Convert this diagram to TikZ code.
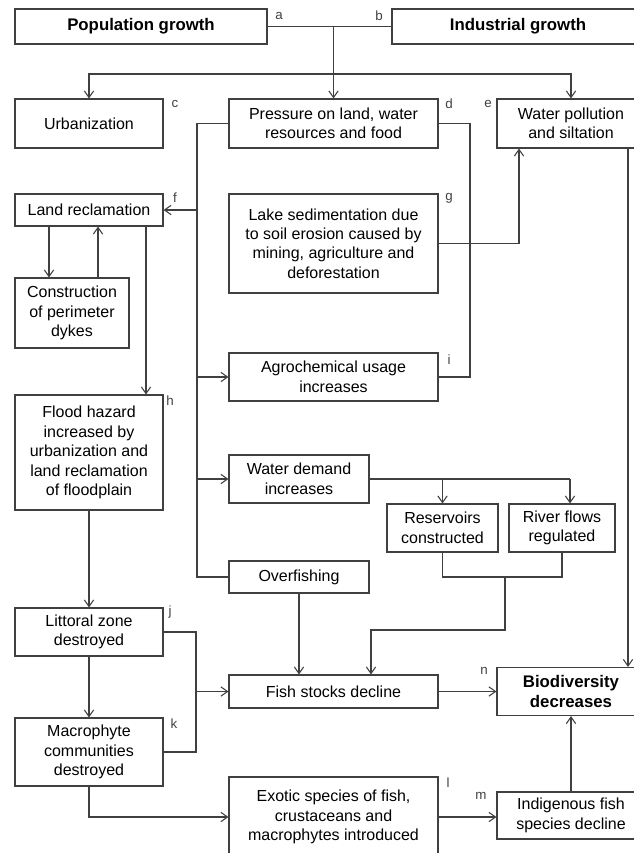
\documentclass[tikz,border=0pt]{standalone}
\usepackage{fontspec}
\setmainfont{Liberation Sans}
\usepackage{xcolor}
\usetikzlibrary{arrows.meta}

\definecolor{lineclr}{RGB}{64,64,64}

\begin{document}
\begin{tikzpicture}[x=0.75pt,y=0.75pt,yscale=-1,xscale=1,
  line width=0.8pt, draw=lineclr,
  >={Straight Barb[length=5pt,width=7pt]},
  box/.style 2 args={draw=lineclr, line width=0.8pt, inner sep=0pt, align=center,
    minimum width=#1*0.75pt, minimum height=#2*0.75pt,
    font=\fontsize{12}{14.6}\selectfont},
  boldbox/.style 2 args={box={#1}{#2}, font=\fontsize{12.6}{15}\selectfont\bfseries},
  lbl/.style={inner sep=0pt, text=lineclr, font=\fontsize{10}{12}\selectfont}]
\useasboundingbox (0,0) rectangle (634,853);

% Boxes
\node[boldbox={252}{35}] (popgrowth) at (141,26.5) {Population growth};
\node[boldbox={252}{35}] (indgrowth) at (518,26.5) {Industrial growth};
\node[box={148}{49}] (urban) at (89,123.5) {Urbanization};
\node[box={209}{49}] (pressure) at (333.5,123.5) {Pressure on land, water\\resources and food};
\node[box={148}{49}] (waterpol) at (571,123.5) {Water pollution\\and siltation};
\node[box={148}{32}] (landrec) at (89,210) {Land reclamation};
\node[box={209}{99}] (lakesed) at (333.5,243.5) {Lake sedimentation due\\to soil erosion caused by\\mining, agriculture and\\deforestation};
\node[box={114}{70}] (dykes) at (72,313) {Construction\\of perimeter\\dykes};
\node[box={209}{48}] (agrochem) at (333.5,377) {Agrochemical usage\\increases};
\node[box={148}{115}] (flood) at (89,452.5) {Flood hazard\\increased by\\urbanization and\\land reclamation\\of floodplain};
\node[box={140}{48}] (waterdem) at (299,479) {Water demand\\increases};
\node[box={111}{48}] (reservoir) at (442.5,528) {Reservoirs\\constructed};
\node[box={106}{48}] (riverflow) at (562,528) {River flows\\regulated};
\node[box={140}{32}] (overfish) at (299,577) {Overfishing};
\node[box={148}{48}] (littoral) at (89,632) {Littoral zone\\destroyed};
\node[box={209}{33}] (fishstock) at (333.5,691.5) {Fish stocks decline};
\node[boldbox={148}{48}] (biodiv) at (571,691.5) {Biodiversity\\decreases};
\node[box={148}{68}] (macrophyte) at (89,752) {Macrophyte\\communities\\destroyed};
\node[box={209}{80}] (exotic) at (333.5,817) {Exotic species of fish,\\crustaceans and\\macrophytes introduced};
\node[box={148}{47}] (indigenous) at (571,815.5) {Indigenous fish\\species decline};

% Letter labels
\node[lbl] (la) at (279,16) {a};
\node[lbl] (lb) at (379,16) {b};
\node[lbl] (lc) at (175,104) {c};
\node[lbl] (ld) at (449,104) {d};
\node[lbl] (le) at (488,104) {e};
\node[lbl] (lf) at (175,198) {f};
\node[lbl] (lg) at (449,198) {g};
\node[lbl] (lh) at (170,401) {h};
\node[lbl] (li) at (449,360) {i};
\node[lbl] (lj) at (170,612) {j};
\node[lbl] (lk) at (174,724) {k};
\node[lbl] (ll) at (448,783) {l};
\node[lbl] (lm) at (481,796) {m};
\node[lbl] (ln) at (484,671) {n};

% Helper points
\coordinate (branch) at (333.5,74);
\coordinate (ltrunk) at (197,123.5);
\coordinate (rtrunk) at (470,123.5);
\coordinate (lakeup) at (519,243.5);
\coordinate (rside) at (628,400);
\coordinate (dykedown) at (49,250);
\coordinate (dykeup) at (98,250);
\coordinate (floodin) at (146,300);
\coordinate (ljoin) at (196,691.5);
\coordinate (wdemright) at (570,479);
\coordinate (rjoin) at (505,577);
\coordinate (fishin) at (371,630);

%Straight Lines
\draw (popgrowth.east) -- (indgrowth.west);
\draw[->] (pressure.north |- popgrowth.east) -- (pressure.north);
\draw[->] (branch) -| (urban.north);
\draw[->] (branch) -| (waterpol.north);

%Straight Lines
\draw (pressure.west) -- (ltrunk) -- (ltrunk |- overfish.west) -- (overfish.west);
\draw[->] (ltrunk |- landrec.east) -- (landrec.east);
\draw[->] (ltrunk |- agrochem.west) -- (agrochem.west);
\draw[->] (ltrunk |- waterdem.west) -- (waterdem.west);
\draw (pressure.east) -- (rtrunk) |- (agrochem.east);
\draw[->] (lakesed.east) -- (lakeup) -- (lakeup |- waterpol.south);
\draw[->] (rside |- waterpol.south) -- (rside |- biodiv.north);

%Straight Lines
\draw[->] (dykedown |- landrec.south) -- (dykedown |- dykes.north);
\draw[->] (dykeup |- dykes.north) -- (dykeup |- landrec.south);
\draw[->] (floodin |- landrec.south) -- (floodin |- flood.north);
\draw[->] (flood.south) -- (littoral.north);
\draw[->] (littoral.south) -- (macrophyte.north);
\draw[->] (macrophyte.south) |- (exotic.west);
\draw (littoral.east) -| (ljoin) |- (macrophyte.east);
\draw[->] (ljoin) -- (fishstock.west);

%Straight Lines
\draw (waterdem.east) -- (wdemright);
\draw[->] (reservoir.north |- waterdem.east) -- (reservoir.north);
\draw[->] (wdemright) -- (wdemright |- riverflow.north);
\draw (reservoir.south) |- (rjoin) -| (riverflow.south);
\draw[->] (rjoin) |- (fishin) -- (fishin |- fishstock.north);
\draw[->] (overfish.south) -- (overfish.south |- fishstock.north);
\draw[->] (fishstock.east) -- (biodiv.west);
\draw[->] (exotic.east) -- (exotic.east -| indigenous.west);
\draw[->] (indigenous.north) -- (biodiv.south);
\end{tikzpicture}
\end{document}
